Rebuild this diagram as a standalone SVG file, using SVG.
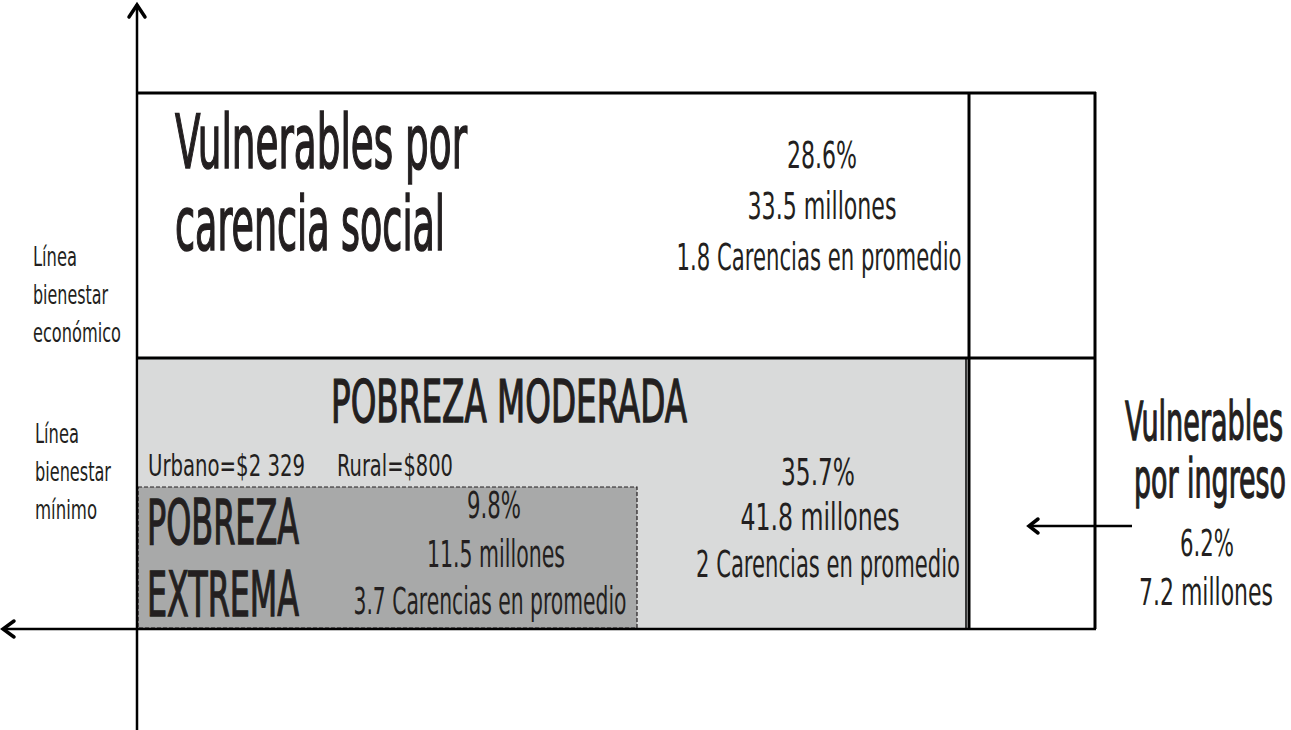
<svg xmlns="http://www.w3.org/2000/svg" width="1291" height="730" viewBox="0 0 1291 730">
<style>
text{font-family:"Liberation Sans Narrow","DejaVu Sans Condensed","Liberation Sans",sans-serif;fill:#231f20;}
.big{font-size:74px;stroke:#231f20;stroke-width:1.6;}
.hd{stroke:#231f20;stroke-width:1.3;}
.stat{font-size:37px;}
.lab{font-size:27px;}
.ln{stroke:#000;stroke-width:3;fill:none;}
.ax{stroke:#000;stroke-width:2.5;fill:none;}
.head{stroke:#000;stroke-width:3.5;fill:none;stroke-linecap:round;stroke-linejoin:miter;}
</style>
<rect width="1291" height="730" fill="#fff"/>
<g id="moderada">
<rect x="139" y="359" width="828" height="269" fill="#d9dada"/>
<text class="hd" x="509" y="422" font-size="58" text-anchor="middle" textLength="356" lengthAdjust="spacingAndGlyphs">POBREZA MODERADA</text>
<text x="148" y="476" font-size="30" textLength="157" lengthAdjust="spacingAndGlyphs">Urbano=$2 329</text>
<text x="337" y="476" font-size="30" textLength="116" lengthAdjust="spacingAndGlyphs">Rural=$800</text>
<text class="stat" x="818" y="485" text-anchor="middle" textLength="74" lengthAdjust="spacingAndGlyphs">35.7%</text>
<text class="stat" x="820" y="530" text-anchor="middle" textLength="159" lengthAdjust="spacingAndGlyphs">41.8 millones</text>
<text class="stat" x="828" y="577" text-anchor="middle" textLength="264" lengthAdjust="spacingAndGlyphs">2 Carencias en promedio</text>
</g>
<g id="extrema">
<rect x="138" y="487" width="499" height="141" fill="#a8a9a9" stroke="#231f20" stroke-width="1.2" stroke-dasharray="4 2"/>
<text class="hd" x="147" y="544" font-size="63" textLength="152" lengthAdjust="spacingAndGlyphs">POBREZA</text>
<text class="hd" x="147" y="616" font-size="63" textLength="152" lengthAdjust="spacingAndGlyphs">EXTREMA</text>
<text class="stat" x="494" y="518" text-anchor="middle" textLength="54" lengthAdjust="spacingAndGlyphs">9.8%</text>
<text class="stat" x="496" y="567" text-anchor="middle" textLength="138" lengthAdjust="spacingAndGlyphs">11.5 millones</text>
<text class="stat" x="490" y="614" text-anchor="middle" textLength="273" lengthAdjust="spacingAndGlyphs">3.7 Carencias en promedio</text>
</g>
<g id="carencia">
<text class="big" x="175" y="168" textLength="292" lengthAdjust="spacingAndGlyphs">Vulnerables por</text>
<text class="big" x="175" y="250" textLength="270" lengthAdjust="spacingAndGlyphs">carencia social</text>
<text class="stat" x="822" y="168" text-anchor="middle" textLength="70" lengthAdjust="spacingAndGlyphs">28.6%</text>
<text class="stat" x="822" y="219" text-anchor="middle" textLength="149" lengthAdjust="spacingAndGlyphs">33.5 millones</text>
<text class="stat" x="819" y="270" text-anchor="middle" textLength="285" lengthAdjust="spacingAndGlyphs">1.8 Carencias en promedio</text>
</g>
<g id="frame">
<line class="ln" x1="137" y1="93" x2="1096" y2="93"/>
<line class="ln" x1="1095" y1="92" x2="1095" y2="629"/>
<line class="ln" x1="969" y1="93" x2="969" y2="629"/>
<line x1="966" y1="359" x2="966" y2="628" stroke="#000" stroke-width="1.5"/>
<line class="ln" x1="137" y1="358" x2="1096" y2="358"/>
</g>
<g id="ejes">
<line class="ax" x1="137" y1="4" x2="137" y2="730"/>
<polyline class="head" points="129,17 137,5 145,17"/>
<line class="ax" x1="3" y1="629" x2="1096" y2="629"/>
<polyline class="head" points="14,621 3,629 14,637"/>
</g>
<g id="linea-economico">
<text class="lab" x="33" y="266" textLength="44" lengthAdjust="spacingAndGlyphs">Línea</text>
<text class="lab" x="33" y="304" textLength="75" lengthAdjust="spacingAndGlyphs">bienestar</text>
<text class="lab" x="33" y="342" textLength="88" lengthAdjust="spacingAndGlyphs">económico</text>
</g>
<g id="linea-minimo">
<text class="lab" x="35" y="443" textLength="44" lengthAdjust="spacingAndGlyphs">Línea</text>
<text class="lab" x="35" y="481" textLength="76" lengthAdjust="spacingAndGlyphs">bienestar</text>
<text class="lab" x="35" y="519" textLength="62" lengthAdjust="spacingAndGlyphs">mínimo</text>
</g>
<g id="ingreso">
<text class="hd" x="1204" y="440" font-size="54" text-anchor="middle" textLength="158" lengthAdjust="spacingAndGlyphs">Vulnerables</text>
<text class="hd" x="1210" y="497" font-size="54" text-anchor="middle" textLength="152" lengthAdjust="spacingAndGlyphs">por ingreso</text>
<text class="stat" x="1207" y="556" text-anchor="middle" textLength="54" lengthAdjust="spacingAndGlyphs">6.2%</text>
<text class="stat" x="1206" y="605" text-anchor="middle" textLength="134" lengthAdjust="spacingAndGlyphs">7.2 millones</text>
</g>
<g id="connectors">
<line x1="1029" y1="526" x2="1132" y2="526" stroke="#000" stroke-width="2.5"/>
<polyline class="head" points="1038,519 1029,526 1038,533"/>
</g>
</svg>
